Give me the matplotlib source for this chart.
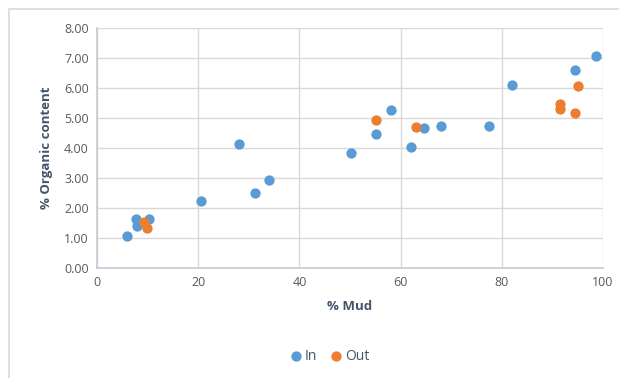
import matplotlib
matplotlib.use("Agg")
import matplotlib.pyplot as plt
from matplotlib.ticker import FormatStrFormatter

# % mud vs % organic content, split by site group
mud_in = [5.9, 7.7, 7.9, 10.3, 20.6, 28.1, 31.2, 34.0, 50.2, 55.1, 58.1,
          62.1, 64.6, 68.0, 77.5, 82.1, 94.4, 98.7]
org_in = [1.07, 1.63, 1.40, 1.63, 2.23, 4.13, 2.50, 2.93, 3.83, 4.47, 5.27,
          4.03, 4.67, 4.73, 4.73, 6.11, 6.60, 7.07]
mud_out = [9.3, 9.9, 55.1, 63.0, 91.5, 91.5, 94.4, 95.1]
org_out = [1.53, 1.33, 4.93, 4.70, 5.47, 5.31, 5.18, 6.08]

BLUE = "#5B9BD5"
ORANGE = "#ED7D31"
TXT = "#595959"
TITLE = "#44546A"
GRID = "#D9D9D9"

plt.rcParams.update({"font.family": ["Open Sans", "DejaVu Sans"], "font.size": 9})

fig = plt.figure(figsize=(6.19, 3.78), dpi=100)
ax = fig.add_axes([97 / 619, 1 - 268 / 378, 506 / 619, 240 / 378])

ax.scatter(mud_in, org_in, s=55, color=BLUE, label="In", zorder=3, linewidths=0)
ax.scatter(mud_out, org_out, s=55, color=ORANGE, label="Out", zorder=3, linewidths=0)

ax.set_xlim(0, 100)
ax.set_ylim(0, 8)
ax.set_xticks(range(0, 101, 20))
ax.set_yticks(range(0, 9))
ax.yaxis.set_major_formatter(FormatStrFormatter("%.2f"))
ax.grid(True, color=GRID, lw=1)
ax.set_axisbelow(True)
for s in ["top", "right"]:
    ax.spines[s].set_visible(False)
for s in ["left", "bottom"]:
    ax.spines[s].set_color("#C5CCD6")
    ax.spines[s].set_linewidth(1.2)
ax.tick_params(length=0, colors=TXT, labelsize=9, pad=6)

ax.set_xlabel("% Mud", fontweight="bold", color=TITLE, fontsize=9.5, labelpad=8)
ax.set_ylabel("% Organic content", fontweight="bold", color=TITLE, fontsize=9.5, labelpad=8)

fig.legend(loc="center", bbox_to_anchor=(330 / 619, 1 - 356 / 378), ncol=2,
           frameon=False, handlelength=0.7, handletextpad=0.3, columnspacing=1.0,
           labelcolor=TITLE, fontsize=10)

# light frame around the chart, offset from the top-left corner
fig.patches.append(plt.Rectangle((9 / 619, -0.1), 1, 1 - 9 / 378 + 0.1,
                                 transform=fig.transFigure, fill=False,
                                 edgecolor="#D9D9D9", lw=1.2))

fig.savefig("out.png", dpi=100)
